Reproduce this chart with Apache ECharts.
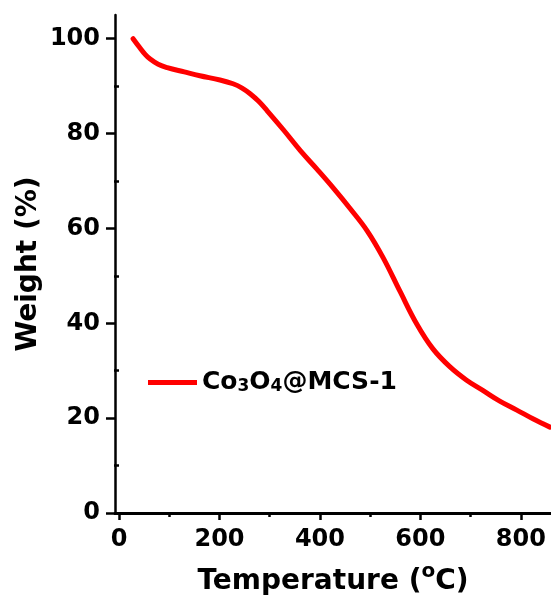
<!DOCTYPE html>
<html>
<head>
<meta charset="utf-8">
<script src="https://cdn.jsdelivr.net/npm/echarts@6/dist/echarts.min.js"></script>
<style>html,body{margin:0;padding:0;background:#fff;}#chart{width:551px;height:598px;}</style>
</head>
<body>
<div id="chart"></div>
<script>
var temperature = [28, 40, 52, 62, 78, 96, 130, 161, 201, 227, 245, 261, 278, 295, 328, 361, 394, 426, 460, 494, 526, 560, 593, 625, 659, 692, 725, 758, 792, 825, 858];
var weight = [100, 98.3, 96.7, 95.7, 94.6, 93.9, 93.0, 92.2, 91.3, 90.5, 89.6, 88.4, 86.8, 84.8, 80.7, 76.4, 72.5, 68.6, 64.2, 59.5, 53.8, 46.6, 39.8, 34.6, 30.8, 28.0, 25.8, 23.6, 21.7, 19.8, 18.1];
var seriesName = 'Co3O4@MCS-1';
var xMajorTicks = [0, 200, 400, 600, 800];
var xMinorTicks = [100, 300, 500, 700];
var yMajorTicks = [0, 20, 40, 60, 80, 100];
var yMinorTicks = [10, 30, 50, 70, 90];

var points = temperature.map(function (t, i) { return [t, weight[i]]; });
var FONT = 'DejaVu Sans';
var chart = echarts.init(document.getElementById('chart'));
var axisLineStyle = { color: '#000', width: 2.5 };
chart.setOption({
  animation: false,
  backgroundColor: '#fff',
  grid: { left: 115, top: 15, right: 0, bottom: 85, containLabel: false, outerBoundsMode: 'none' },
  legend: {
    left: 148, top: 370, padding: 0,
    icon: 'rect',
    itemWidth: 49, itemHeight: 5,
    data: [seriesName],
    formatter: function () { return 'Co{s|3}O{s|4}@MCS-1'; },
    textStyle: {
      fontFamily: FONT, fontWeight: 'bold', fontSize: 25, color: '#000',
      rich: { s: { fontFamily: FONT, fontWeight: 'bold', fontSize: 17, color: '#000', verticalAlign: 'bottom' } }
    }
  },
  xAxis: [{
    type: 'value', min: -8, max: 860, position: 'bottom',
    name: 'Temperature ({sup|o}C)', nameLocation: 'middle', nameGap: 49,
    nameMoveOverlap: false,
    nameTextStyle: {
      fontFamily: FONT, fontWeight: 'bold', fontSize: 28, color: '#000', lineHeight: 40,
      rich: { sup: { fontFamily: FONT, fontWeight: 'bold', fontSize: 20, color: '#000', lineHeight: 20, padding: [0, 0, 20, 0], verticalAlign: 'bottom' } }
    },
    axisLine: { show: true, onZero: false, lineStyle: axisLineStyle },
    axisTick: { show: true, inside: false, length: 7, customValues: xMajorTicks, lineStyle: { color: '#000', width: 2.5 } },
    axisLabel: { customValues: xMajorTicks, margin: 15, fontFamily: FONT, fontWeight: 'bold', fontSize: 24, color: '#000' },
    splitLine: { show: false }
  }, {
    type: 'value', min: -8, max: 860, position: 'bottom',
    axisLine: { show: false },
    axisTick: { show: true, inside: false, length: 4, customValues: xMinorTicks, lineStyle: { color: '#000', width: 2.5 } },
    axisLabel: { show: false },
    splitLine: { show: false }
  }, {
    type: 'value', min: -8, max: 860, position: 'top',
    axisLine: { show: true, lineStyle: { color: '#000', width: 3 } },
    axisTick: { show: false }, axisLabel: { show: false }, splitLine: { show: false }
  }],
  yAxis: [{
    type: 'value', min: 0, max: 105, position: 'left',
    name: 'Weight (%)', nameLocation: 'middle', nameGap: 72,
    nameMoveOverlap: false,
    nameTextStyle: { fontFamily: FONT, fontWeight: 'bold', fontSize: 28, color: '#000' },
    axisLine: { show: true, onZero: false, lineStyle: axisLineStyle },
    axisTick: { show: true, inside: false, length: 9, customValues: yMajorTicks, lineStyle: { color: '#000', width: 2.5 } },
    axisLabel: { customValues: yMajorTicks, margin: 15, fontFamily: FONT, fontWeight: 'bold', fontSize: 24, color: '#000' },
    splitLine: { show: false }
  }, {
    type: 'value', min: 0, max: 105, position: 'left',
    axisLine: { show: false },
    axisTick: { show: true, inside: false, length: 5, customValues: yMinorTicks, lineStyle: { color: '#000', width: 2.5 } },
    axisLabel: { show: false },
    splitLine: { show: false }
  }],
  series: [{
    name: seriesName, type: 'line', xAxisIndex: 0, yAxisIndex: 0,
    data: points, smooth: 0.4, showSymbol: false, symbol: 'none',
    lineStyle: { color: '#ff0000', width: 5, cap: 'round' },
    itemStyle: { color: '#ff0000' }
  }]
});
</script>
</body>
</html>
